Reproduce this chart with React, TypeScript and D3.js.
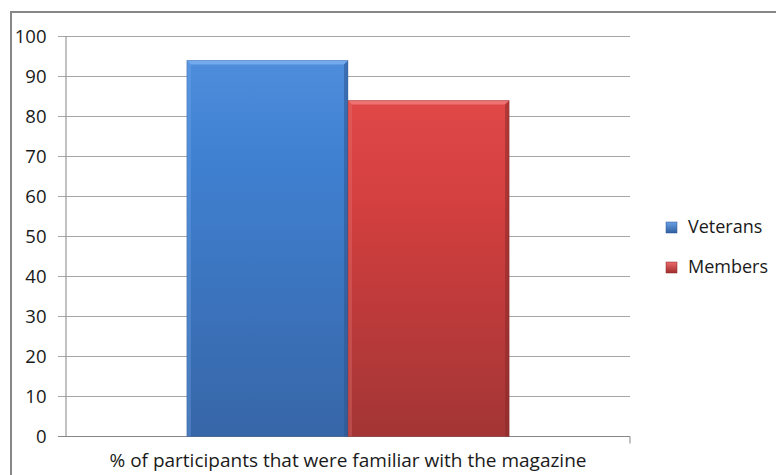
import React from "react";
import * as d3 from "d3";

const categories = ["% of participants that were familiar with the magazine"];
const seriesNames = ["Veterans", "Members"];
const seriesValues = [94, 84];
const yTicks = [0, 10, 20, 30, 40, 50, 60, 70, 80, 90, 100];

const palette = [
  { top: "#4d8ddc", mid: "#3f7fcf", bottom: "#3766a8", light: "#7aaef0", dark: "#2d5690" },
  { top: "#e04848", mid: "#d43f3f", bottom: "#a33535", light: "#f07a7a", dark: "#862a2a" },
];

const W = 776;
const H = 475;
const margin = { left: 66, right: 146, top: 36.5, bottom: 38.5 };
const FONT = "'Open Sans', 'Liberation Sans', sans-serif";

export default function App() {
  const plotW = W - margin.left - margin.right;
  const plotH = H - margin.top - margin.bottom;

  const x0 = d3.scaleBand().domain(categories).range([0, plotW]).paddingInner(0).paddingOuter(0);
  const y = d3.scaleLinear().domain([0, 100]).range([plotH, 0]);

  // gap width 150% of a bar: band = 2 bars + 1.5 bar
  const band = x0.bandwidth();
  const barW = band / 3.5;
  const groupStart = (x0(categories[0]) ?? 0) + barW * 0.75;
  const x1 = d3.scaleBand().domain(seriesNames).range([groupStart, groupStart + barW * 2]);

  return (
    <div style={{ position: "fixed", left: 0, top: 0, width: W, height: H, overflow: "hidden" }}>
      <svg width={W} height={H} style={{ display: "block", background: "#fff" }}>
        <defs>
          {palette.map((p, i) => (
            <linearGradient key={i} id={`g${i}`} x1="0" y1="0" x2="0" y2="1">
              <stop offset="0" stopColor={p.top} />
              <stop offset="0.3" stopColor={p.mid} />
              <stop offset="1" stopColor={p.bottom} />
            </linearGradient>
          ))}
          <linearGradient id="lg0" x1="0" y1="0" x2="0" y2="1">
            <stop offset="0" stopColor="#6aa2e6" />
            <stop offset="1" stopColor="#2f5fa0" />
          </linearGradient>
          <linearGradient id="lg1" x1="0" y1="0" x2="0" y2="1">
            <stop offset="0" stopColor="#ec6a6a" />
            <stop offset="1" stopColor="#a02c2c" />
          </linearGradient>
        </defs>

        {/* chart frame */}
        <path d={`M11,${H + 2} V12 H${W + 2}`} fill="none" stroke="#878787" strokeWidth={2} />

        <g transform={`translate(${margin.left},${margin.top})`}>
          {/* gridlines and ticks */}
          {yTicks.map((t) => (
            <g key={t}>
              <line x1={-8} x2={plotW} y1={y(t)} y2={y(t)} stroke={t === 0 ? "#868686" : "#a6a6a6"} strokeWidth={1} />
              <text
                x={-19.5}
                y={y(t)}
                dy="0.36em"
                textAnchor="end"
                fontFamily={FONT}
                fontSize={18.5}
                fill="#1a1a1a"
              >
                {t}
              </text>
            </g>
          ))}
          {/* axes */}
          <line x1={0} x2={0} y1={0} y2={plotH} stroke="#868686" strokeWidth={1} />
          <line x1={plotW} x2={plotW} y1={plotH} y2={plotH + 7} stroke="#868686" strokeWidth={1} />

          {/* bars */}
          {seriesNames.map((s, i) => {
            const bx = x1(s) ?? 0;
            const bw = x1.bandwidth();
            const by = y(seriesValues[i]);
            const bh = plotH - by;
            const p = palette[i];
            const bv = 4;
            return (
              <g key={s}>
                <rect x={bx} y={by} width={bw} height={bh} fill={`url(#g${i})`} />
                {/* bevel: top highlight */}
                <polygon
                  points={`${bx},${by} ${bx + bw},${by} ${bx + bw - bv},${by + bv} ${bx + bv},${by + bv}`}
                  fill={p.light}
                  opacity={0.85}
                />
                {/* bevel: left edge */}
                <polygon
                  points={`${bx},${by} ${bx + bv},${by + bv} ${bx + bv},${by + bh} ${bx},${by + bh}`}
                  fill={p.light}
                  opacity={0.3}
                />
                {/* bevel: right shade */}
                <polygon
                  points={`${bx + bw},${by} ${bx + bw},${by + bh} ${bx + bw - bv},${by + bh} ${bx + bw - bv},${by + bv}`}
                  fill={p.dark}
                  opacity={0.55}
                />
                <rect x={bx} y={by} width={bw} height={bh} fill="none" stroke={p.dark} strokeOpacity={0.35} strokeWidth={1} />
              </g>
            );
          })}

          {/* category label */}
          <text
            x={(x0(categories[0]) ?? 0) + band / 2}
            y={plotH + 30.5}
            textAnchor="middle"
            fontFamily={FONT}
            fontSize={19}
            fill="#1a1a1a"
          >
            {categories[0]}
          </text>
        </g>

        {/* legend */}
        {seriesNames.map((s, i) => (
          <g key={s} transform={`translate(666,${222 + i * 40})`}>
            <rect x={0} y={0} width={11} height={11} fill={`url(#lg${i})`} stroke={palette[i].dark} strokeWidth={0.5} />
            <text x={22} y={10.8} fontFamily={FONT} fontSize={18} fill="#1a1a1a">
              {s}
            </text>
          </g>
        ))}
      </svg>
    </div>
  );
}
